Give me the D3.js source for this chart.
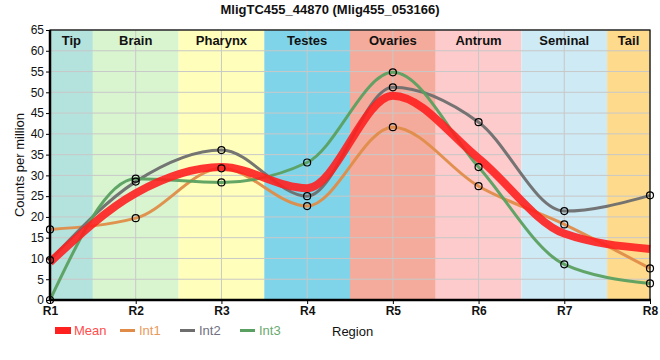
<!DOCTYPE html>
<html><head><meta charset="utf-8">
<script src="https://cdn.jsdelivr.net/npm/d3@7"></script>
<style>body{margin:0;background:#fff;font-family:"Liberation Sans",Arial,sans-serif;}</style>
</head><body><svg id="c" width="660" height="360"></svg>
<script>
const regions = ["R1","R2","R3","R4","R5","R6","R7","R8"];
const tissues = ["Tip","Brain","Pharynx","Testes","Ovaries","Antrum","Seminal","Tail"];
const tissueColors = ["#b4e2dd","#d8f5d0","#ffffbb","#7fd4ea","#f4ab9b","#fdcbcb","#ceeaf4","#fdda8c"];
const tissueStart = [0,0.5,1.5,2.5,3.5,4.5,5.5,6.5];
const tissueEnd   = [0.5,1.5,2.5,3.5,4.5,5.5,6.5,7];
const mean = [9.1,25.7,32.0,26.9,49.2,34.1,16.0,12.3];
const int1 = [17.0,19.7,31.7,22.6,41.6,27.4,18.2,7.6];
const int2 = [9.6,28.5,36.1,25.0,51.2,42.8,21.4,25.2];
const int3 = [0.0,29.2,28.3,33.1,54.8,32.0,8.6,4.0];
const yTicks = d3.range(0,66,5);
const seriesNames = ["Mean","Int1","Int2","Int3"];
const seriesColors = ["#ff2020","#e08c48","#6e6e6e","#5aa060"];
const legendTextColors = ["#ff4d4d","#e89a5c","#707080","#6aaa70"];

const svg = d3.select("#c");
const L=50,R=650,T=30,B=300;
const x = d3.scaleLinear().domain([0,7]).range([L,R]);
const y = d3.scaleLinear().domain([0,65]).range([B,T]);

// bands
svg.selectAll("rect.band").data(tissues).enter().append("rect")
  .attr("x",(d,i)=>x(tissueStart[i])).attr("y",T)
  .attr("width",(d,i)=>x(tissueEnd[i])-x(tissueStart[i])).attr("height",B-T)
  .attr("fill",(d,i)=>tissueColors[i]);
// grid
svg.selectAll("line.hg").data(yTicks).enter().append("line")
  .attr("x1",L).attr("x2",R).attr("y1",d=>y(d)).attr("y2",d=>y(d))
  .attr("stroke","#c8c8c8").attr("stroke-width",1);
svg.selectAll("line.vg").data(regions).enter().append("line")
  .attr("x1",(d,i)=>x(i)).attr("x2",(d,i)=>x(i)).attr("y1",T).attr("y2",B)
  .attr("stroke","#c8c8c8").attr("stroke-width",1);
// band labels
svg.selectAll("text.bl").data(tissues).enter().append("text")
  .attr("x",(d,i)=>(x(tissueStart[i])+x(tissueEnd[i]))/2).attr("y",45)
  .attr("text-anchor","middle").attr("font-size",13).attr("font-weight","bold")
  .attr("fill","#111").text(d=>d);

const line = d3.line().x((d,i)=>x(i)).y(d=>y(d)).curve(d3.curveMonotoneX);
const data = [mean,int1,int2,int3];
// draw Int series first, then mean on top? mean appears above orange/green
[1,2,3].forEach(k=>{
  svg.append("path").attr("d",line(data[k])).attr("fill","none")
    .attr("stroke",seriesColors[k]).attr("stroke-width",3).attr("stroke-opacity",0.95);
});
svg.append("path").attr("d",line(mean)).attr("fill","none")
  .attr("stroke",seriesColors[0]).attr("stroke-width",8).attr("stroke-opacity",0.9);
[1,2,3].forEach(k=>{
  svg.selectAll(null).data(data[k]).enter().append("circle")
    .attr("cx",(d,i)=>x(i)).attr("cy",d=>y(d)).attr("r",3.5)
    .attr("fill","none").attr("stroke","#000").attr("stroke-width",1.2);
});

// frame
svg.append("rect").attr("x",L).attr("y",T).attr("width",R-L).attr("height",B-T)
  .attr("fill","none").attr("stroke","#000").attr("stroke-width",1.2);
svg.append("line").attr("x1",L).attr("x2",L).attr("y1",T).attr("y2",B+1).attr("stroke","#000").attr("stroke-width",2.5);
svg.append("line").attr("x1",L-1).attr("x2",R+1).attr("y1",B).attr("y2",B).attr("stroke","#000").attr("stroke-width",2.5);

// axes
const yAxis = d3.axisLeft(y).tickValues(yTicks).tickSize(4).tickPadding(2);
const gy = svg.append("g").attr("transform",`translate(${L},0)`).call(yAxis);
gy.select(".domain").remove();
gy.selectAll("text").attr("font-size",12).attr("fill","#111").attr("font-family","Liberation Sans, Arial, sans-serif");
const xAxis = d3.axisBottom(x).tickValues(d3.range(8)).tickFormat(i=>regions[i]).tickSize(4).tickPadding(2);
const gx = svg.append("g").attr("transform",`translate(0,${B})`).call(xAxis);
gx.select(".domain").remove();
gx.selectAll("text").attr("font-size",12).attr("font-weight","bold").attr("fill","#111").attr("font-family","Liberation Sans, Arial, sans-serif");

// title
svg.append("text").attr("x",330).attr("y",14).attr("text-anchor","middle")
  .attr("font-size",13).attr("font-weight","bold").attr("fill","#111")
  .text("MligTC455_44870 (Mlig455_053166)");
// y label
svg.append("text").attr("transform","translate(24,165) rotate(-90)")
  .attr("text-anchor","middle").attr("font-size",13).attr("fill","#111").text("Counts per million");
// x label
svg.append("text").attr("x",332).attr("y",336).attr("font-size",13).attr("fill","#111").text("Region");

// legend
const legX = [55,120,180,240];
seriesNames.forEach((n,k)=>{
  if(k===0){
    svg.append("rect").attr("x",legX[k]).attr("y",327).attr("width",16).attr("height",7).attr("fill",seriesColors[0]);
  } else {
    svg.append("line").attr("x1",legX[k]).attr("x2",legX[k]+15).attr("y1",330.5).attr("y2",330.5)
      .attr("stroke",seriesColors[k]).attr("stroke-width",3);
  }
  svg.append("text").attr("x",legX[k]+19).attr("y",335).attr("font-size",13)
    .attr("fill",legendTextColors[k]).text(n);
});
</script></body></html>
